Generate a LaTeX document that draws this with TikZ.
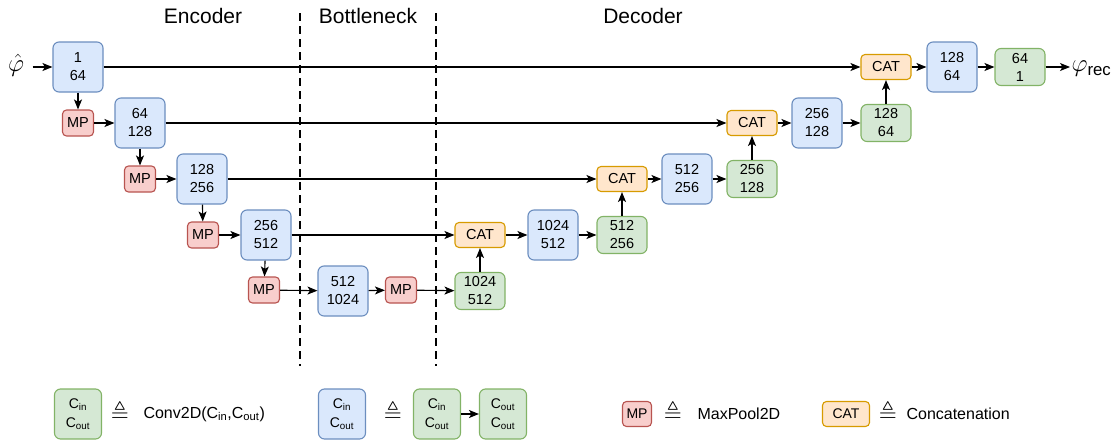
\documentclass[tikz,border=0pt]{standalone}
\usepackage{amsmath,amssymb}
\usepackage{fontspec}
\setmainfont{Liberation Sans}
\usetikzlibrary{arrows.meta, positioning}

\definecolor{blueF}{HTML}{DAE8FC}
\definecolor{blueD}{HTML}{6C8EBF}
\definecolor{greenF}{HTML}{D5E8D4}
\definecolor{greenD}{HTML}{82B366}
\definecolor{redF}{HTML}{F8CECC}
\definecolor{redD}{HTML}{B85450}
\definecolor{orangeF}{HTML}{FFE6CC}
\definecolor{orangeD}{HTML}{D79B00}

\newcommand{\defsym}{\scalebox{1.6}{$\triangleq$}}

\begin{document}
\begin{tikzpicture}
[x=1pt, y=-1pt,
 line width=1.1pt,
 >={Stealth[length=10pt,width=8pt,inset=2.5pt]},
 every node/.style={font=\fontsize{14.5}{18}\selectfont},
 block/.style={draw, rounded corners=6pt, align=center, inner sep=0pt,
   minimum width=50pt},
 dconv/.style={block, fill=blueF, draw=blueD, minimum height=50pt},
 sconv/.style={block, fill=greenF, draw=greenD, minimum height=37pt},
 pool/.style={block, fill=redF, draw=redD, minimum width=31pt,
   minimum height=26pt, rounded corners=4pt},
 cat/.style={block, fill=orangeF, draw=orangeD, minimum height=25pt,
   rounded corners=4pt},
 stage/.style={font=\fontsize{21}{24}\selectfont},
 sep/.style={line width=2pt, dash pattern=on 8pt off 5pt},
 legtext/.style={anchor=west, inner sep=0pt, font=\fontsize{16}{18}\selectfont},
 small/.style={font=\fontsize{14}{19}\selectfont},
]
\useasboundingbox (0,0) rectangle (1120,442);

% stages
\node[stage] (enc) at (203,16) {Encoder};
\node[stage] (bot) at (368,16) {Bottleneck};
\node[stage] (dec) at (643,16) {Decoder};
\draw[sep] (300,13) -- (300,366);
\draw[sep] (436,13) -- (436,366);

% encoder
\node[inner xsep=8pt, inner ysep=1pt] (in) at (16,65)
  {\fontsize{24}{24}\selectfont$\hat{\varphi}$};
\node[dconv] (e1) at (78,67) {1\\64};
\node[pool] (p1) at (78,123) {MP};
\node[dconv] (e2) at (140,123) {64\\128};
\node[pool] (p2) at (140,179) {MP};
\node[dconv] (e3) at (202,179) {128\\256};
\node[pool] (p3) at (203,235) {MP};
\node[dconv] (e4) at (266,235) {256\\512};
\node[pool] (p4) at (264,290) {MP};

% bottleneck
\node[dconv] (b1) at (343,291) {512\\1024};
\node[pool] (p5) at (401,290) {MP};

% decoder
\node[sconv] (d0) at (480,291) {1024\\512};
\node[cat] (c1) at (480,235) {CAT};
\node[dconv] (d1) at (553,235) {1024\\512};
\node[sconv] (s1) at (622,235) {512\\256};
\node[cat] (c2) at (622,179) {CAT};
\node[dconv] (d2) at (687,179) {512\\256};
\node[sconv] (s2) at (752,179) {256\\128};
\node[cat] (c3) at (752,123) {CAT};
\node[dconv] (d3) at (817,123) {256\\128};
\node[sconv] (s3) at (886,123) {128\\64};
\node[cat] (c4) at (886,67) {CAT};
\node[dconv] (d4) at (952,67) {128\\64};
\node[sconv] (s4) at (1020,67) {64\\1};
\node[anchor=west, inner sep=1pt] (out) at (1070,69)
  {\fontsize{24}{24}\selectfont$\varphi_{\mathrm{rec}}$};

\draw[->] (in.east |- e1) -- (e1);
\draw[->] (e1) -- (p1);
\draw[->] (p1) -- (e2);
\draw[->] (e2) -- (p2);
\draw[->] (p2) -- (e3);
\draw[->] (e3) -- (p3);
\draw[->] (p3) -- (e4);
\draw[->] (e4) -- (p4);
\draw[->] (p4) -- (b1);
\draw[->] (b1) -- (p5);
\draw[->] (p5) -- (d0);
\draw[->] (d0) -- (c1);
\draw[->] (c1) -- (d1);
\draw[->] (d1) -- (s1);
\draw[->] (s1) -- (c2);
\draw[->] (c2) -- (d2);
\draw[->] (d2) -- (s2);
\draw[->] (s2) -- (c3);
\draw[->] (c3) -- (d3);
\draw[->] (d3) -- (s3);
\draw[->] (s3) -- (c4);
\draw[->] (c4) -- (d4);
\draw[->] (d4) -- (s4);
\draw[->] (s4) -- (out.west |- s4);

% skip connections
\draw[->] (e1) -- (c4);
\draw[->] (e2) -- (c3);
\draw[->] (e3) -- (c2);
\draw[->] (e4) -- (c1);

% legend
\node[sconv, small, minimum width=47pt, minimum height=50pt] (lg1) at (78,414)
  {C\textsubscript{in}\\C\textsubscript{out}};
\node (eq1) at (120,412) {\defsym};
\node[legtext] (t1) at (143,414) {Conv2D(C\textsubscript{in},C\textsubscript{out})};

\node[dconv, small, minimum width=47pt] (lb) at (342,414)
  {C\textsubscript{in}\\C\textsubscript{out}};
\node (eq2) at (393,412) {\defsym};
\node[sconv, small, minimum width=47pt, minimum height=50pt] (lg2) at (437,414)
  {C\textsubscript{in}\\C\textsubscript{out}};
\node[sconv, small, minimum width=47pt, minimum height=50pt] (lg3) at (503,414)
  {C\textsubscript{out}\\C\textsubscript{out}};
\draw[->] (lg2) -- (lg3);

\node[pool, small, minimum width=29pt, minimum height=25pt] (lp) at (637,414) {MP};
\node (eq3) at (673,412) {\defsym};
\node[legtext] (t3) at (697,414) {MaxPool2D};

\node[cat, small, minimum width=47pt] (lc) at (846,414) {CAT};
\node (eq4) at (888,412) {\defsym};
\node[legtext] (t4) at (906,414) {Concatenation};
\end{tikzpicture}
\end{document}
